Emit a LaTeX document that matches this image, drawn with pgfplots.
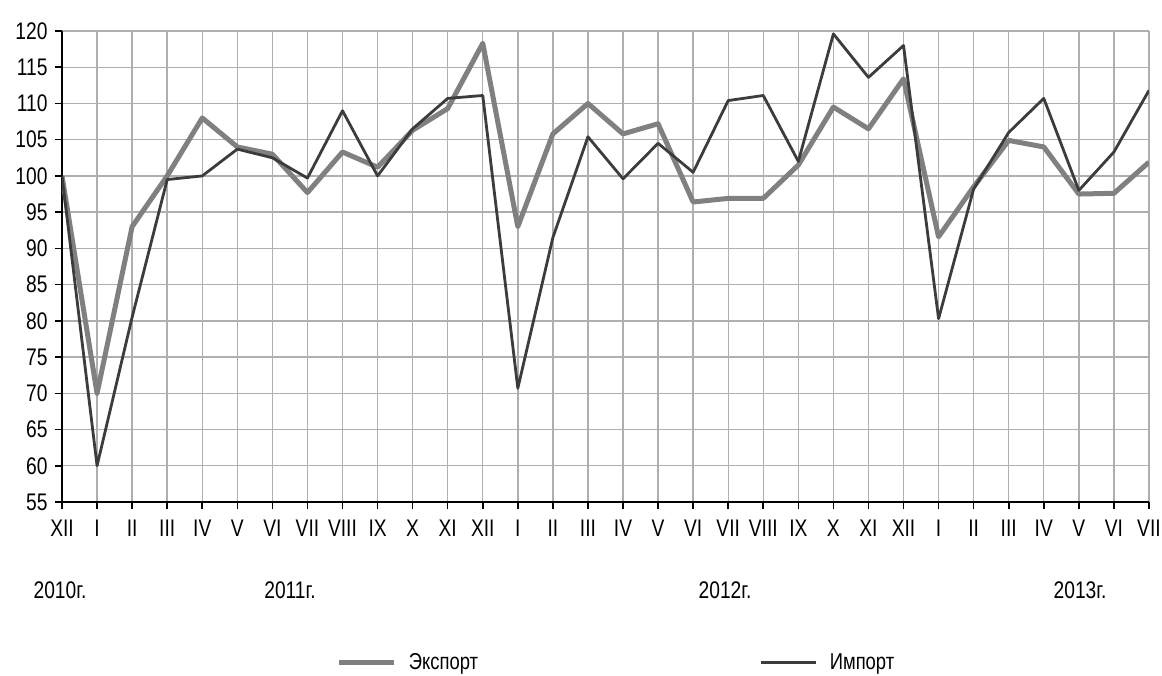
\documentclass[border=0pt]{standalone}
\usepackage{fontspec}
\setmainfont{Liberation Sans}[FakeStretch=0.8]
\usepackage{pgfplots}
\pgfplotsset{compat=1.18}
\usepackage{pgfplotstable}

\pgfplotstableread{
x exp imp
0 100 100
1 70 60
2 93 80.5
3 100 99.5
4 108 100
5 104 103.7
6 103 102.5
7 97.7 99.7
8 103.3 109
9 101.2 100
10 106.3 106.5
11 109.3 110.7
12 118.3 111.1
13 93 70.7
14 105.8 91.5
15 110 105.4
16 105.8 99.6
17 107.2 104.5
18 96.4 100.5
19 96.9 110.4
20 96.9 111.1
21 101.5 102
22 109.5 119.6
23 106.5 113.6
24 113.4 118
25 91.6 80.3
26 98.5 98.2
27 104.9 106
28 104 110.7
29 97.5 98
30 97.6 103.3
31 101.9 111.8
}\datatable

\definecolor{expcol}{RGB}{128,128,128}
\definecolor{impcol}{RGB}{60,60,60}
\definecolor{gridcol}{RGB}{175,175,175}

\begin{document}
\begin{tikzpicture}
\useasboundingbox (0,0) rectangle (1162pt,675pt);
\begin{axis}[
  at={(62pt,173pt)}, anchor=south west,
  scale only axis, width=1087pt, height=471pt,
  xmin=0, xmax=31, ymin=55, ymax=120,
  ytick={55,60,...,120},
  xtick={0,...,31},
  xticklabels={XII,I,II,III,IV,V,VI,VII,VIII,IX,X,XI,XII,I,II,III,IV,V,VI,VII,VIII,IX,X,XI,XII,I,II,III,IV,V,VI,VII},
  axis lines=left,
  axis line style={-, black, line width=2pt},
  grid=major,
  grid style={draw=gridcol, line width=1.4pt},
  tick align=outside,
  major tick length=7pt,
  tick style={black, line width=1.6pt},
  tick label style={font=\fontsize{24}{24}\selectfont},
  yticklabel style={xshift=-4pt},
  xticklabel style={yshift=-7pt},
  /pgf/number format/assume math mode=true,
  legend columns=2,
  legend style={draw=none, fill=none, at={(0.25,-0.34)}, anchor=west,
    font=\fontsize{23}{23}\selectfont,
    /tikz/every even column/.append style={column sep=280pt}},
  legend image code/.code={\draw[#1] (0pt,0pt) -- (55pt,0pt); \path (65pt,0pt);},
]
\addplot[expcol, line width=5pt, line join=round] table[x=x, y=exp] {\datatable};
\addlegendentry{Экспорт}
\addplot[impcol, line width=2.8pt, line join=round] table[x=x, y=imp] {\datatable};
\addlegendentry{Импорт}
\end{axis}
\begin{scope}[every node/.style={font=\fontsize{24}{24}\selectfont}]
\node at (60pt,85pt) {2010г.};
\node at (290pt,85pt) {2011г.};
\node at (725pt,85pt) {2012г.};
\node at (1080pt,85pt) {2013г.};
\end{scope}
\end{tikzpicture}
\end{document}
